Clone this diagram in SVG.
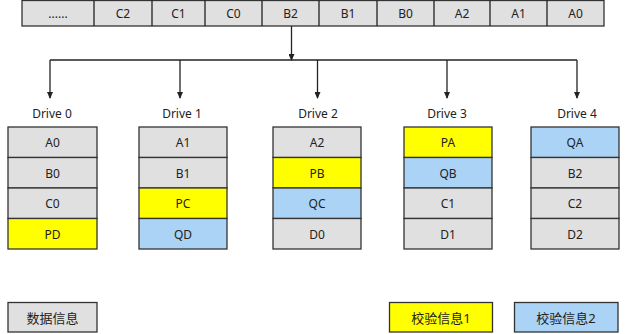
<svg xmlns="http://www.w3.org/2000/svg" width="627" height="334" viewBox="0 0 627 334">
<style>
text{font-family:"Noto Sans","Noto Sans CJK SC",sans-serif;font-size:12px;fill:#222;text-anchor:middle;dominant-baseline:central}
.g{fill:#e0e0e0;stroke:#333;stroke-width:1.3}
.y{fill:#ffff00;stroke:#333;stroke-width:1.3}
.b{fill:#abd3f5;stroke:#333;stroke-width:1.3}
.ln{stroke:#222;stroke-width:1.3;fill:none}
.cj{font-size:13px}
</style>
<defs>
<marker id="ah" markerWidth="7" markerHeight="6" refX="6" refY="3" orient="auto" markerUnits="userSpaceOnUse">
<path d="M0,0 L7,3 L0,6 Z" fill="#222"/>
</marker>
</defs>
<g id="top-bar">
<rect class="g" x="22" y="0.5" width="582" height="25.5"/>
<path class="ln" d="M94,0.5V26M152,0.5V26M205,0.5V26M262,0.5V26M319,0.5V26M377,0.5V26M434,0.5V26M490,0.5V26M547,0.5V26" stroke="#333"/>
<text x="58" y="13">......</text>
<text x="123" y="13">C2</text>
<text x="178.5" y="13">C1</text>
<text x="233.5" y="13">C0</text>
<text x="290.5" y="13">B2</text>
<text x="348" y="13">B1</text>
<text x="405.5" y="13">B0</text>
<text x="462" y="13">A2</text>
<text x="518.5" y="13">A1</text>
<text x="575.5" y="13">A0</text>
</g>
<g id="connectors">
<line class="ln" x1="291.5" y1="26" x2="291.5" y2="60" marker-end="url(#ah)"/>
<line class="ln" x1="50" y1="60" x2="577" y2="60"/>
<line class="ln" x1="50" y1="60" x2="50" y2="98" marker-end="url(#ah)"/>
<line class="ln" x1="180" y1="60" x2="180" y2="98" marker-end="url(#ah)"/>
<line class="ln" x1="317.5" y1="60" x2="317.5" y2="98" marker-end="url(#ah)"/>
<line class="ln" x1="447" y1="60" x2="447" y2="98" marker-end="url(#ah)"/>
<line class="ln" x1="577" y1="60" x2="577" y2="98" marker-end="url(#ah)"/>
</g>
<g id="drive0">
<text x="52" y="113">Drive 0</text>
<rect class="g" x="8" y="127" width="89" height="30.5"/><text x="52.5" y="142.5">A0</text>
<rect class="g" x="8" y="157.5" width="89" height="30.5"/><text x="52.5" y="173">B0</text>
<rect class="g" x="8" y="188" width="89" height="30.5"/><text x="52.5" y="203.5">C0</text>
<rect class="y" x="8" y="218.5" width="89" height="30.5"/><text x="52.5" y="234">PD</text>
</g>
<g id="drive1">
<text x="182" y="113">Drive 1</text>
<rect class="g" x="139" y="127" width="88" height="30.5"/><text x="183" y="142.5">A1</text>
<rect class="g" x="139" y="157.5" width="88" height="30.5"/><text x="183" y="173">B1</text>
<rect class="y" x="139" y="188" width="88" height="30.5"/><text x="183" y="203.5">PC</text>
<rect class="b" x="139" y="218.5" width="88" height="30.5"/><text x="183" y="234">QD</text>
</g>
<g id="drive2">
<text x="318" y="113">Drive 2</text>
<rect class="g" x="273" y="127" width="88" height="30.5"/><text x="317" y="142.5">A2</text>
<rect class="y" x="273" y="157.5" width="88" height="30.5"/><text x="317" y="173">PB</text>
<rect class="b" x="273" y="188" width="88" height="30.5"/><text x="317" y="203.5">QC</text>
<rect class="g" x="273" y="218.5" width="88" height="30.5"/><text x="317" y="234">D0</text>
</g>
<g id="drive3">
<text x="447" y="113">Drive 3</text>
<rect class="y" x="404" y="127" width="88" height="30.5"/><text x="448" y="142.5">PA</text>
<rect class="b" x="404" y="157.5" width="88" height="30.5"/><text x="448" y="173">QB</text>
<rect class="g" x="404" y="188" width="88" height="30.5"/><text x="448" y="203.5">C1</text>
<rect class="g" x="404" y="218.5" width="88" height="30.5"/><text x="448" y="234">D1</text>
</g>
<g id="drive4">
<text x="577" y="113">Drive 4</text>
<rect class="b" x="531" y="127" width="88" height="30.5"/><text x="575" y="142.5">QA</text>
<rect class="g" x="531" y="157.5" width="88" height="30.5"/><text x="575" y="173">B2</text>
<rect class="g" x="531" y="188" width="88" height="30.5"/><text x="575" y="203.5">C2</text>
<rect class="g" x="531" y="218.5" width="88" height="30.5"/><text x="575" y="234">D2</text>
</g>
<g id="legend-data">
<rect class="g" x="8" y="302.5" width="89" height="29.5"/><text class="cj" x="52.5" y="317.5">数据信息</text>
</g>
<g id="legend-check1">
<rect class="y" x="389.5" y="302.5" width="103" height="29.5"/><text class="cj" x="441" y="317.5">校验信息1</text>
</g>
<g id="legend-check2">
<rect class="b" x="514.5" y="302.5" width="103.5" height="29.5"/><text class="cj" x="566" y="317.5">校验信息2</text>
</g>
</svg>
